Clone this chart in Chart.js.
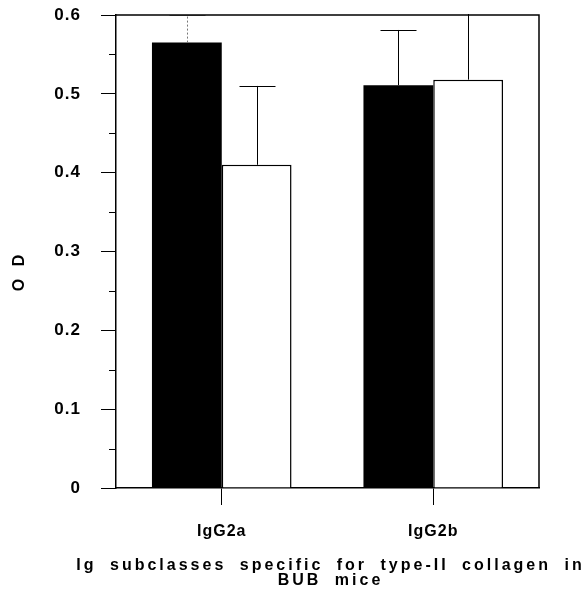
<!DOCTYPE html>
<html>
<head>
<meta charset="utf-8">
<script src="https://cdn.jsdelivr.net/npm/chart.js@4"></script>
<style>
  html, body { margin: 0; padding: 0; background: #fff; }
  #wrap { width: 584px; height: 590px; }
</style>
</head>
<body>
<div id="wrap"><canvas id="chart"></canvas></div>
<script>
const categories = ["IgG2a", "IgG2b"];
const blackValues = [0.565, 0.511];
const blackErrors = [0.035, 0.07];
const whiteValues = [0.41, 0.518];
const whiteErrors = [0.10, 0.10];
const yTicks = [0, 0.1, 0.2, 0.3, 0.4, 0.5, 0.6];
const yMinorTicks = [0.05, 0.15, 0.25, 0.35, 0.45, 0.55];
const xTitle = ["Ig subclasses specific for type-II collagen in", "BUB mice"];
const yTitle = "O D";

const FONT = "'Liberation Sans', Arial, sans-serif";

// error bars, minor ticks, frame and axis titles
const extras = {
    id: "extras",
    beforeDraw(chart) {
        chart.ctx.letterSpacing = "1px";
    },
    afterDatasetsDraw(chart) {
        const ctx = chart.ctx;
        const y = chart.scales.y;
        const area = chart.chartArea;
        ctx.save();
        ctx.beginPath();
        ctx.rect(area.left, area.top - 1, area.right - area.left, area.bottom - area.top + 2);
        ctx.clip();
        chart.data.datasets.forEach((ds, di) => {
            const meta = chart.getDatasetMeta(di);
            meta.data.forEach((bar, i) => {
                const top = ds.data[i] + ds.errors[i];
                const py = y.getPixelForValue(top);
                const x = Math.round(bar.x) + 0.5;
                const faint = di === 0 && i === 0;
                ctx.strokeStyle = faint ? "#777" : "#000";
                ctx.lineWidth = 1;
                ctx.setLineDash(faint ? [2, 2] : []);
                ctx.beginPath();
                ctx.moveTo(x, bar.y);
                ctx.lineTo(x, py);
                ctx.stroke();
                ctx.setLineDash([]);
                ctx.beginPath();
                ctx.moveTo(x - 18, Math.round(py) + 0.5);
                ctx.lineTo(x + 18, Math.round(py) + 0.5);
                ctx.stroke();
            });
        });
        ctx.restore();
    },
    afterDraw(chart) {
        const ctx = chart.ctx;
        const y = chart.scales.y;
        const area = chart.chartArea;
        ctx.save();
        ctx.strokeStyle = "#000";
        ctx.lineWidth = 1;
        yMinorTicks.forEach(v => {
            const py = Math.round(y.getPixelForValue(v)) + 0.5;
            ctx.beginPath();
            ctx.moveTo(area.left - 7, py);
            ctx.lineTo(area.left, py);
            ctx.stroke();
        });
        // frame top and right
        ctx.lineWidth = 1.5;
        ctx.beginPath();
        ctx.moveTo(area.left, area.top);
        ctx.lineTo(area.right, area.top);
        ctx.lineTo(area.right, area.bottom);
        ctx.stroke();

        ctx.fillStyle = "#000";
        ctx.font = "bold 16px " + FONT;
        ctx.textAlign = "center";
        ctx.textBaseline = "middle";
        ctx.letterSpacing = "3px";
        ctx.wordSpacing = "6px";
        const cx = (area.left + area.right) / 2 + 3;
        ctx.fillText(xTitle[0], cx, area.bottom + 78);
        ctx.fillText(xTitle[1], cx, area.bottom + 93);

        ctx.translate(20, 272);
        ctx.rotate(-Math.PI / 2);
        ctx.letterSpacing = "2px";
        ctx.wordSpacing = "4px";
        ctx.fillText(yTitle, 0, 0);
        ctx.restore();
        ctx.letterSpacing = "0px";
    }
};

new Chart(document.getElementById("chart"), {
    type: "bar",
    data: {
        labels: categories,
        datasets: [
            { label: "black", data: blackValues, errors: blackErrors,
              backgroundColor: "#000", borderColor: "#000", borderWidth: 0 },
            { label: "white", data: whiteValues, errors: whiteErrors,
              backgroundColor: "#fff", borderColor: "#000", borderWidth: 1.5 }
        ]
    },
    options: {
        responsive: true,
        maintainAspectRatio: false,
        animation: false,
        devicePixelRatio: 1,
        layout: { padding: { top: 15, right: 45, left: 0, bottom: 0 } },
        plugins: { legend: { display: false }, tooltip: { enabled: false } },
        datasets: { bar: { barPercentage: 1, categoryPercentage: 0.66 } },
        scales: {
            x: {
                grid: { offset: false, drawOnChartArea: false, tickLength: 17, color: "#000" },
                border: { color: "#000", width: 1.5 },
                ticks: { color: "#000", padding: 17, font: { family: FONT, size: 16, weight: "bold" } },
                afterFit(scale) { scale.height = 102; scale.paddingLeft = 0; scale.paddingRight = 0; }
            },
            y: {
                min: 0,
                max: 0.6,
                afterBuildTicks(scale) { scale.ticks = yTicks.map(v => ({ value: v })); },
                grid: { drawOnChartArea: false, tickLength: 15, color: "#000" },
                border: { color: "#000", width: 1.5 },
                ticks: {
                    color: "#000",
                    padding: 20,
                    font: { family: FONT, size: 17, weight: "bold" },
                    callback: v => v === 0 ? "0" : v.toFixed(1)
                },
                afterFit(scale) { scale.width = 116; scale.paddingTop = 0; scale.paddingBottom = 0; }
            }
        }
    },
    plugins: [extras]
});
</script>
</body>
</html>
